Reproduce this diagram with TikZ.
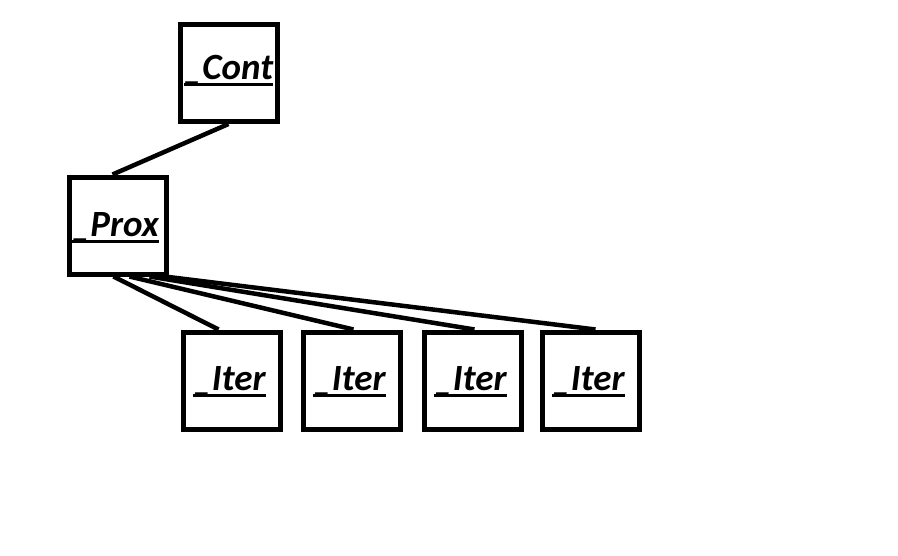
\documentclass[tikz,border=0pt]{standalone}
\usepackage{fontspec}
\setmainfont{Carlito}

\begin{document}
\begin{tikzpicture}[x=1pt,y=-1pt]
  \tikzset{
    box/.style={draw,line width=5pt,minimum width=97pt,minimum height=97pt,inner sep=0pt},
    lbl/.style={inner sep=0pt,anchor=base,font=\fontsize{37}{40}\selectfont\bfseries\itshape},
    edge/.style={line width=4.5pt}
  }
  \useasboundingbox (0,0) rectangle (898,555);

  % boxes
  \node[box] (cont) at (228.5,73) {};
  \node[box] (prox) at (117.5,225.5) {};
  \foreach \n/\x in {1/231.5,2/351.5,3/472.5,4/590.5}
  {
    \node[box] (iter\n) at (\x,380.5) {};
  }

  % labels
  \node[lbl] (tcont) at (228.5,79) {\_Cont};
  \node[lbl] (tprox) at (115.5,236) {\_Prox};
  \foreach \n in {1,2,3,4}
  {
    \node[lbl] (titer\n) at ([xshift=-2pt,yshift=-9.5pt]iter\n.center) {\_Iter};
  }
  \foreach \t in {tcont,tprox,titer1,titer2,titer3,titer4}
  {
    \draw[line width=3pt] ([yshift=-5.5pt]\t.base west) -- ([yshift=-5.5pt]\t.base east);
  }

  % connectors
  \draw[edge] (cont.south) -- ([xshift=-5pt]prox.north);
  \draw[edge] ([xshift=-4pt]prox.south) -- ([xshift=-13pt]iter1.north);
  \draw[edge] ([xshift=12pt]prox.south) -- ([xshift=2pt]iter2.north);
  \draw[edge] ([xshift=32pt]prox.south) -- ([xshift=2pt]iter3.north);
  \draw[edge] ([xshift=47pt]prox.south) -- ([xshift=5pt]iter4.north);
\end{tikzpicture}
\end{document}
